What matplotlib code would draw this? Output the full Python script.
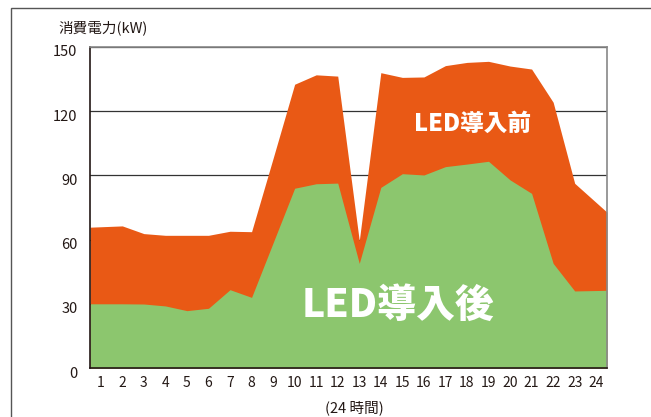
import numpy as np
import matplotlib
matplotlib.use("Agg")
import matplotlib.pyplot as plt
import matplotlib.transforms as mtransforms
from matplotlib.patches import Rectangle

plt.rcParams['font.family'] = ['Noto Sans CJK JP', 'DejaVu Sans']

# 24 hourly readings (kW)
hours = list(range(1, 25))
before_led = [66, 66.4, 62.8, 62, 62, 62, 63.9, 63.7, 98, 132.6, 137, 136.4,
              59.5, 138, 135.8, 136, 141.3, 142.8, 143.3, 141.1, 139.7, 124.2, 86.3, 77.3]
after_led = [30, 30, 29.9, 29, 26.8, 27.9, 36.6, 33, 58.5, 84, 86.1, 86.4,
             48.9, 84.4, 90.8, 90.2, 94.1, 95.3, 96.6, 87.9, 81.6, 48.9, 36, 36.2]
y_ticks = [0, 30, 60, 90, 120, 150]

ORANGE = "#E95915"
GREEN = "#8CC66E"


def extend_to_edges(x, y):
    # carry the first/last segment out to the category edges (x +/- 0.5)
    x = np.asarray(x, float)
    y = np.asarray(y, float)
    y0 = y[0] + (y[0] - y[1]) / 2
    y1 = y[-1] + (y[-1] - y[-2]) / 2
    return np.r_[x[0] - 0.5, x, x[-1] + 0.5], np.r_[y0, y, y1]


fig = plt.figure(figsize=(6.51, 4.17), dpi=100)
fig.patch.set_facecolor("white")

# outer frame around the figure
fig.add_artist(Rectangle((11 / 651, -0.1), 1.2, 1.1 - 8 / 417,
                         transform=fig.transFigure, fill=False,
                         edgecolor="#555555", linewidth=1.0))

ax = fig.add_axes([90 / 651, 49 / 417, 517 / 651, 321 / 417])

xb, yb = extend_to_edges(hours, before_led)
xa, ya = extend_to_edges(hours, after_led)
ax.fill_between(xb, 0, yb, color=ORANGE, linewidth=0, zorder=2)
ax.fill_between(xa, 0, ya, color=GREEN, linewidth=0, zorder=3)

ax.set_xlim(0.5, 24.5)
ax.set_ylim(0, 150)
ax.set_yticks(y_ticks)
ax.set_xticks(hours)
ax.set_xticklabels([str(h) for h in hours])
ax.yaxis.grid(True, color="#333333", linewidth=0.9, zorder=1)
ax.set_axisbelow(True)
ax.tick_params(length=0, labelsize=10, colors="#231815")
ax.tick_params(axis="y", pad=9, labelsize=10.5)
ax.tick_params(axis="x", pad=6)

offset = mtransforms.ScaledTranslation(0, -4 / 100, fig.dpi_scale_trans)
for lbl in ax.get_yticklabels():
    lbl.set_transform(lbl.get_transform() + offset)

for side in ("left", "bottom"):
    ax.spines[side].set_color("#231815")
    ax.spines[side].set_linewidth(1.2)
for side in ("top", "right"):
    ax.spines[side].set_color("#888888")
    ax.spines[side].set_linewidth(1.2)
for s in ax.spines.values():
    s.set_zorder(5)

fig.text(58 / 651, 1 - 28 / 417, "消費電力(kW)", fontsize=10.5, color="#231815",
         ha="left", va="center")
fig.text(354 / 651, 1 - 408 / 417, "(24 時間)", fontsize=10.5, color="#231815",
         ha="center", va="center")

fig.text(472 / 651, 1 - 124 / 417, "LED導入前", fontsize=17, fontweight="black",
         color="white", ha="center", va="center", zorder=10)
fig.text(398 / 651, 1 - 305 / 417, "LED導入後", fontsize=28, fontweight="black",
         color="white", ha="center", va="center", zorder=10)

fig.savefig("out.png", dpi=100)
